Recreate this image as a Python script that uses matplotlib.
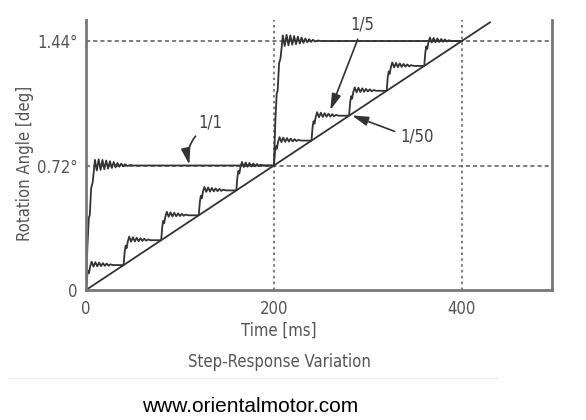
import numpy as np
import matplotlib
matplotlib.use("Agg")
import matplotlib.pyplot as plt
from matplotlib import font_manager
from matplotlib.lines import Line2D

# Step commands (time in ms, angle in deg)
FULL_STEP_TIMES = [0, 200]
FULL_STEP_LEVELS = [0.0, 0.72, 1.44]
FIFTH_STEP_TIMES = [0, 40, 80, 120, 160, 200, 240, 280, 320, 360]
FIFTH_STEP_LEVELS = [0.0, 0.144, 0.288, 0.432, 0.576, 0.72, 0.864, 1.008, 1.152, 1.296, 1.44]
END_TIME = 400

# 1/50 microstep: practically the straight ramp
RAMP_T = [0, 430]
RAMP_Y = [0.0, 1.548]

# Shape of one step response (time after the step, fraction of the step)
FULL_PROFILE_T = [0, 1.5, 3, 4, 5.5, 7, 8, 9.5, 11.5, 13.5, 15.5, 17.5, 19.5, 21.5,
                  23.5, 25.5, 27.5, 29.5, 31.5, 33.5, 35.5, 37.5, 39.5, 41.5, 44, 47, 50]
FULL_PROFILE_F = [0, 0.35, 0.58, 0.6, 0.82, 0.86, 0.93, 1.045, 0.96, 1.05, 0.965, 1.045,
                  0.97, 1.04, 0.975, 1.035, 0.98, 1.028, 0.985, 1.02, 0.99, 1.015, 0.993,
                  1.01, 0.996, 1.004, 1.0]
FIFTH_PROFILE_T = [0, 1.2, 2.2, 3.2, 4.5, 6, 8, 10, 12, 14, 16, 18, 20, 22, 24, 26, 29]
FIFTH_PROFILE_F = [0, 0.55, 0.78, 0.68, 0.95, 1.14, 0.94, 1.12, 0.95, 1.1, 0.96, 1.08,
                   0.97, 1.06, 0.98, 1.03, 1.0]


def step_curve(times, levels, prof_t, prof_f, t_end):
    xs, ys = [], []
    for i, t0 in enumerate(times):
        lo, hi = levels[i], levels[i + 1]
        for pt, pf in zip(prof_t, prof_f):
            xs.append(t0 + pt)
            ys.append(lo + (hi - lo) * pf)
        t_next = times[i + 1] if i + 1 < len(times) else t_end
        xs.append(t_next)
        ys.append(hi)
    return np.array(xs), np.array(ys)


# pick a narrow sans face if one is installed
fonts = font_manager.fontManager.ttflist
names = {f.name for f in fonts}
FS = 11.5
if "Liberation Sans Narrow" in names:
    plt.rcParams["font.family"] = ["Liberation Sans Narrow", "DejaVu Sans"]
    FS = 13.5
elif any(f.name == "DejaVu Sans" and str(f.stretch) in ("condensed", "semi-condensed") for f in fonts):
    plt.rcParams["font.family"] = ["DejaVu Sans"]
    plt.rcParams["font.stretch"] = "condensed"
    FS = 12
else:
    plt.rcParams["font.family"] = ["Liberation Sans", "DejaVu Sans"]

LINE_COLOR = "#333333"
GRAY = "#666666"
TEXT = "#555555"

fig = plt.figure(figsize=(5.86, 4.2), dpi=100)
ax = fig.add_axes([86 / 586, 130 / 420, 466 / 586, 270 / 420])

x1, y1 = step_curve(FULL_STEP_TIMES, FULL_STEP_LEVELS, FULL_PROFILE_T, FULL_PROFILE_F, END_TIME)
x5, y5 = step_curve(FIFTH_STEP_TIMES, FIFTH_STEP_LEVELS, FIFTH_PROFILE_T, FIFTH_PROFILE_F, END_TIME)

ax.plot(RAMP_T, RAMP_Y, color=LINE_COLOR, lw=1.3, clip_on=False)
ax.plot(x5, y5, color=LINE_COLOR, lw=1.3)
ax.plot(x1, y1, color=LINE_COLOR, lw=1.3)

# dotted reference grid
for xv in [200, 400]:
    ax.axvline(xv, color=GRAY, lw=1.2, ls=(0, (1.5, 2.0)), zorder=0)
for yv in [0.72, 1.44]:
    ax.axhline(yv, color=GRAY, lw=1.2, ls=(0, (2.5, 1.8)), zorder=0)

ax.set_xlim(0, 496)
ax.set_ylim(0, 1.5615)
ax.set_xticks([0, 200, 400])
ax.set_yticks([0, 0.72, 1.44])
ax.set_yticklabels(["0", "0.72°", "1.44°"])
ax.tick_params(length=0, labelsize=FS, labelcolor=TEXT)
ax.tick_params(axis="x", pad=7)
ax.tick_params(axis="y", pad=6)

ax.spines["top"].set_visible(False)
for side in ["left", "right", "bottom"]:
    ax.spines[side].set_color("#777777")
    ax.spines[side].set_linewidth(2)

ax.set_xlabel("Time [ms]", fontsize=FS, color=TEXT)
ax.xaxis.set_label_coords((279 - 86) / 466, -0.118)
ax.set_ylabel("Rotation Angle [deg]", fontsize=FS, color=TEXT)
ax.yaxis.set_label_coords(-0.112, 0.47)

arrow = dict(arrowstyle="-|>,head_length=0.7,head_width=0.2", color=LINE_COLOR,
             lw=1.2, mutation_scale=14, shrinkA=2, shrinkB=0)
ax.annotate("1/1", xy=(110, 0.725), xytext=(132, 0.97), fontsize=FS, color="#444444",
            ha="center", va="center",
            arrowprops=dict(arrow, connectionstyle="arc3,rad=0.3", relpos=(0.1, 0.0)))
ax.annotate("1/5", xy=(260, 1.04), xytext=(294, 1.533), fontsize=FS, color="#444444",
            ha="center", va="center",
            arrowprops=dict(arrow, relpos=(0.4, 0.0)))
ax.annotate("1/50", xy=(283, 1.01), xytext=(352, 0.885), fontsize=FS, color="#444444",
            ha="center", va="center",
            arrowprops=dict(arrow, relpos=(0.0, 0.7)))

fig.text(279 / 586, 1 - 362 / 420, "Step-Response Variation", fontsize=FS, color=TEXT,
         ha="center", va="center")
fig.add_artist(Line2D([8 / 586, 497 / 586], [1 - 378 / 420, 1 - 378 / 420],
                      color="#eeeeee", lw=1))
fig.text(250 / 586, 1 - 406 / 420, "www.orientalmotor.com", fontsize=15, color="black",
         ha="center", va="center", family=["Liberation Sans", "DejaVu Sans"],
         stretch="normal")

fig.savefig("out.png", dpi=100)
